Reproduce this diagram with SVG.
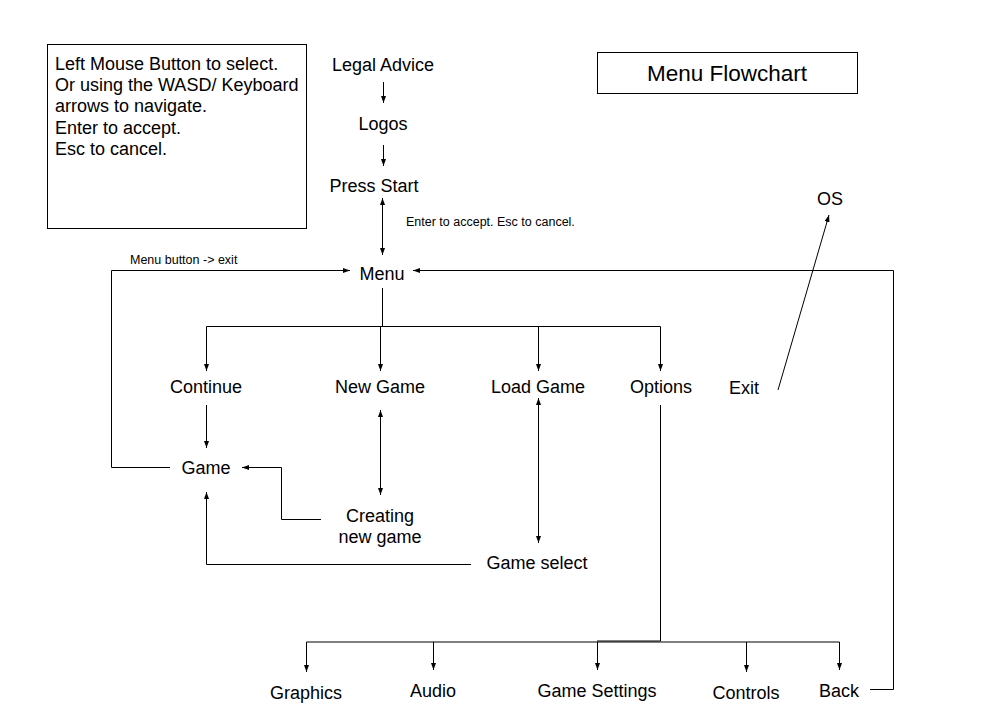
<svg xmlns="http://www.w3.org/2000/svg" width="1000" height="724" viewBox="0 0 1000 724">
<style>
text{font-family:"Liberation Sans",Arial,sans-serif;fill:#000}
.n{font-size:18px;text-anchor:middle}
.s{font-size:12.5px}
.c{fill:none;stroke:#000;stroke-width:1}
.b{fill:#fff;stroke:#000;stroke-width:1}
</style>
<defs>
<marker id="a" viewBox="0 0 7 5" refX="7" refY="2.5" markerWidth="7" markerHeight="5" markerUnits="userSpaceOnUse" orient="auto-start-reverse">
<path d="M0,0 L7,2.5 L0,5 z" fill="#000"/>
</marker>
</defs>
<rect width="1000" height="724" fill="#fff"/>
<g id="note">
<rect class="b" x="47.5" y="44.5" width="259" height="184"/>
<text x="55" y="70" font-size="18">Left Mouse Button to select.</text>
<text x="55" y="91" font-size="18">Or using the WASD/ Keyboard</text>
<text x="55" y="112" font-size="18">arrows to navigate.</text>
<text x="55" y="134" font-size="18">Enter to accept.</text>
<text x="55" y="155" font-size="18">Esc to cancel.</text>
</g>
<g id="title">
<rect class="b" x="597.5" y="52.5" width="260" height="41"/>
<text x="727" y="81" font-size="22.5" text-anchor="middle">Menu Flowchart</text>
</g>
<g id="legal"><text class="n" x="383" y="71">Legal Advice</text></g>
<g id="logos"><text class="n" x="383" y="130">Logos</text></g>
<g id="pressstart"><text class="n" x="374" y="192">Press Start</text></g>
<g id="menu"><text class="n" x="382" y="280">Menu</text></g>
<g id="continue"><text class="n" x="206" y="393">Continue</text></g>
<g id="newgame"><text class="n" x="380" y="393">New Game</text></g>
<g id="loadgame"><text class="n" x="538" y="393">Load Game</text></g>
<g id="options"><text class="n" x="661" y="393">Options</text></g>
<g id="exit"><text class="n" x="744" y="394">Exit</text></g>
<g id="os"><text class="n" x="830" y="205">OS</text></g>
<g id="game"><text class="n" x="206" y="474">Game</text></g>
<g id="creating"><text class="n" x="380" y="522">Creating</text><text class="n" x="380" y="543">new game</text></g>
<g id="gameselect"><text class="n" x="537" y="569">Game select</text></g>
<g id="graphics"><text class="n" x="306" y="699">Graphics</text></g>
<g id="audio"><text class="n" x="433" y="697">Audio</text></g>
<g id="gamesettings"><text class="n" x="597" y="697">Game Settings</text></g>
<g id="controls"><text class="n" x="746" y="699">Controls</text></g>
<g id="back"><text class="n" x="839" y="697">Back</text></g>
<g id="connectors">
<path class="c" d="M383.5,82 V103" marker-end="url(#a)"/>
<path class="c" d="M383.5,145 V166" marker-end="url(#a)"/>
<path class="c" d="M382.5,198 V255" marker-start="url(#a)" marker-end="url(#a)"/>
<text class="s" x="406" y="226">Enter to accept. Esc to cancel.</text>
<path class="c" d="M170,467.5 H111.5 V270.5 H350" marker-end="url(#a)"/>
<text class="s" x="130" y="264">Menu button -&gt; exit</text>
<path class="c" d="M870,689.5 H893.5 V270.5 H413" marker-end="url(#a)"/>
<path class="c" d="M382.5,288 V326.5"/>
<path class="c" d="M206.5,326.5 H660.5"/>
<path class="c" d="M206.5,326.5 V371" marker-end="url(#a)"/>
<path class="c" d="M380.5,326.5 V371" marker-end="url(#a)"/>
<path class="c" d="M538.5,326.5 V371" marker-end="url(#a)"/>
<path class="c" d="M660.5,326.5 V371" marker-end="url(#a)"/>
<path class="c" d="M778,390 L829,215" marker-end="url(#a)"/>
<path class="c" d="M206.5,405 V448" marker-end="url(#a)"/>
<path class="c" d="M380.5,410 V495" marker-start="url(#a)" marker-end="url(#a)"/>
<path class="c" d="M538.5,398 V543" marker-start="url(#a)" marker-end="url(#a)"/>
<path class="c" d="M321,519.5 H281.5 V467.5 H242" marker-end="url(#a)"/>
<path class="c" d="M471,564.5 H206.5 V492" marker-end="url(#a)"/>
<path class="c" d="M660.5,405 V641 H597" stroke-width="1.5"/>
<path class="c" d="M306.5,642 H839.5"/>
<path class="c" d="M306.5,642 V672" marker-end="url(#a)"/>
<path class="c" d="M433.5,642 V670" marker-end="url(#a)"/>
<path class="c" d="M597.5,642 V670" marker-end="url(#a)"/>
<path class="c" d="M746.5,642 V672" marker-end="url(#a)"/>
<path class="c" d="M839.5,642 V670" marker-end="url(#a)"/>
</g>
</svg>
